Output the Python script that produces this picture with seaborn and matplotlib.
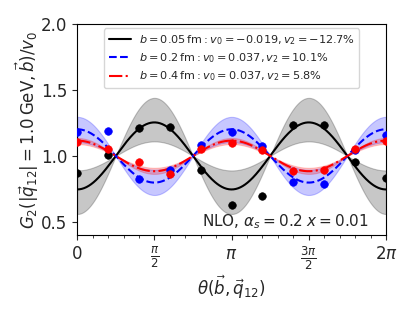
import numpy as np
import pandas as pd
import matplotlib
matplotlib.use("Agg")
import matplotlib.pyplot as plt
import seaborn as sns

# Fit parameters per impact parameter b
labels = [
    r"$b=0.05\,\mathrm{fm}: v_0=-0.019, v_2=-12.7\%$",
    r"$b=0.2\,\mathrm{fm}: v_0=0.037, v_2=10.1\%$",
    r"$b=0.4\,\mathrm{fm}: v_0=0.037, v_2=5.8\%$",
]
v2 = [-0.127, 0.101, 0.058]
v2_lo = [-0.22, 0.052, 0.045]
v2_hi = [-0.055, 0.148, 0.068]
colors = ["black", "blue", "red"]
styles = ["-", "--", "-."]

# Sampled points at theta = i*pi/5
theta_pts = np.arange(11) * np.pi / 5
g_black = [0.869, 1.008, 1.21, 1.218, 0.894, 0.625, 0.697, 1.235, 1.232, 0.955, 0.831]
g_blue = [1.184, 1.19, 0.823, 0.892, 1.08, 1.184, 1.076, 0.803, 0.786, 1.045, 1.16]
g_red = [1.109, 1.053, 0.953, 0.866, 1.05, 1.10, 1.047, 0.889, 0.894, 1.053, 1.11]
points = [g_black, g_blue, g_red]

sns.set_style("ticks")
plt.rcParams["font.family"] = ["DejaVu Sans"]
plt.rcParams["mathtext.fontset"] = "dejavusans"

fig = plt.figure(figsize=(4.15, 3.11), dpi=100)
ax = fig.add_axes([0.186, 0.244, 0.744, 0.679])

theta = np.linspace(0, 2 * np.pi, 400)
for k in range(3):
    lo = 1 + 2 * v2_lo[k] * np.cos(2 * theta)
    hi = 1 + 2 * v2_hi[k] * np.cos(2 * theta)
    ax.fill_between(theta, lo, hi, color=colors[k], alpha=0.22, lw=0.8)

for k in range(3):
    df = pd.DataFrame({"theta": theta, "G": 1 + 2 * v2[k] * np.cos(2 * theta)})
    sns.lineplot(data=df, x="theta", y="G", ax=ax, color=colors[k],
                 linestyle=styles[k], lw=1.5, label=labels[k])

for k in range(3):
    dp = pd.DataFrame({"theta": theta_pts, "G": points[k]})
    sns.scatterplot(data=dp, x="theta", y="G", ax=ax, color=colors[k],
                    s=30, edgecolor=colors[k], zorder=5, legend=False)

ax.set_xlim(0, 2 * np.pi)
ax.set_ylim(0.4, 2.0)
ax.set_xticks([0, np.pi / 2, np.pi, 3 * np.pi / 2, 2 * np.pi])
ax.set_xticklabels(["0", r"$\frac{\pi}{2}$", r"$\pi$", r"$\frac{3\pi}{2}$", r"$2\pi$"])
ax.set_xticks(np.arange(21) * np.pi / 10, minor=True)
ax.set_yticks([0.5, 1.0, 1.5, 2.0])
ax.tick_params(labelsize=12)
ax.tick_params(which="minor", length=2)
for s in ax.spines.values():
    s.set_visible(True)
    s.set_color("black")

ax.set_xlabel(r"$\theta(\vec{b},\vec{q}_{12})$", fontsize=12, labelpad=1)
ax.set_ylabel(r"$G_2(|\vec{q}_{12}|=1.0\,\mathrm{GeV},\vec{b})/v_0$", fontsize=12, labelpad=0)
ax.text(0.405, 0.066, r"NLO, $\alpha_s=0.2$ $x=0.01$", transform=ax.transAxes,
        fontsize=11, va="center", ha="left")
ax.legend(loc="upper center", fontsize=8.1, frameon=True, handlelength=2.0,
          handletextpad=0.7, labelspacing=0.4, borderaxespad=0.4)

fig.savefig("out.png", dpi=100)
